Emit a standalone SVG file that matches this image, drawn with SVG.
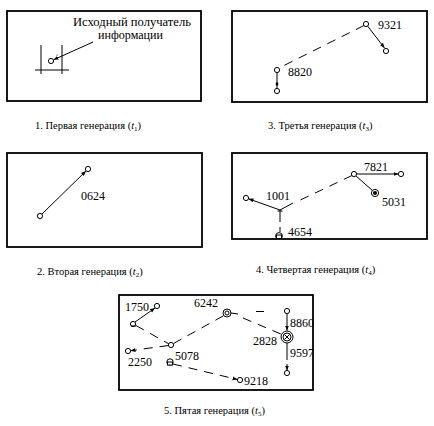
<svg xmlns="http://www.w3.org/2000/svg" width="434" height="426" viewBox="0 0 434 426">
<defs>
<marker id="ah" viewBox="0 0 10 10" refX="10" refY="5" markerWidth="5" markerHeight="5" orient="auto"><path d="M0,1 L10,5 L0,9 z" fill="#000"/></marker>
<style>
.frame{fill:#fff;stroke:#000;stroke-width:1.8}
.ln{stroke:#000;stroke-width:1;fill:none}
.ds{stroke:#000;stroke-width:1;fill:none;stroke-dasharray:9 7}
.nd{fill:#fff;stroke:#000;stroke-width:1}
text{font-family:'Liberation Serif','DejaVu Serif',serif;fill:#000}
.num{font-size:12px}
.cap{font-size:10.5px}
</style>
</defs>
<rect width="434" height="426" fill="#fff"/>

<g id="frames">
<rect class="frame" x="7" y="11" width="194" height="90"/>
<rect class="frame" x="232" y="11" width="195" height="91"/>
<rect class="frame" x="7" y="153" width="195" height="94"/>
<rect class="frame" x="232" y="153" width="195" height="86"/>
<rect class="frame" x="119" y="295" width="194" height="95"/>
</g>

<g id="connectors">
<line class="ln" x1="41" y1="45" x2="41" y2="74"/>
<line class="ln" x1="62" y1="45" x2="62" y2="74"/>
<line class="ln" x1="35" y1="70" x2="69" y2="70"/>
<line class="ln" x1="93" y1="42" x2="53.5" y2="59.8" marker-end="url(#ah)"/>
<line class="ln" x1="42" y1="214" x2="86" y2="171" marker-end="url(#ah)"/>
<line class="ds" x1="364" y1="25.5" x2="279" y2="68"/>
<line class="ln" x1="367.5" y1="26" x2="384.5" y2="48" marker-end="url(#ah)"/>
<line class="ln" x1="277" y1="72.5" x2="277" y2="88.5"/>
<rect x="275.8" y="82.5" width="2.4" height="3" fill="#000"/>
<line class="ln" x1="356.5" y1="174" x2="398.5" y2="174" marker-end="url(#ah)"/>
<line class="ln" x1="356" y1="176" x2="372.5" y2="190.5"/>
<line class="ds" x1="352" y1="175.5" x2="294" y2="203"/>
<line class="ln" x1="293" y1="203" x2="280" y2="210"/>
<line class="ln" x1="280" y1="210" x2="248.5" y2="198.8" marker-end="url(#ah)"/>
<line class="ln" x1="280" y1="210" x2="280" y2="222"/>
<line class="ln" x1="277.5" y1="211" x2="282.5" y2="211"/>
<line class="ln" x1="280" y1="227" x2="280" y2="232"/>
<line class="ln" x1="135" y1="322" x2="155" y2="308" marker-end="url(#ah)"/>
<line class="ds" x1="136" y1="325.5" x2="169" y2="344" stroke-dasharray="9 12"/>
<line class="ds" x1="173.5" y1="343.5" x2="224" y2="315.5"/>
<line class="ds" x1="168.5" y1="345.5" x2="130.5" y2="350.7" marker-end="url(#ah)"/>
<line class="ln" x1="231" y1="313" x2="238" y2="314"/>
<line class="ds" x1="243" y1="318" x2="282" y2="334.5"/>
<line class="ln" x1="256" y1="311.5" x2="264" y2="311.5"/>
<line class="ln" x1="287" y1="313.5" x2="287" y2="330.5" marker-end="url(#ah)"/>
<line class="ln" x1="287" y1="343" x2="287" y2="360"/>
<line class="ln" x1="287" y1="364" x2="287" y2="370.5" marker-end="url(#ah)"/>
<line class="ds" x1="173" y1="364" x2="237.5" y2="379.5" marker-end="url(#ah)"/>
</g>

<g id="p1-source">
<circle class="nd" cx="51" cy="61" r="2.6"/>
<circle cx="57" cy="55" r="0.6" fill="#000"/>
<text class="num" x="73" y="26" textLength="118" lengthAdjust="spacingAndGlyphs">Исходный получатель</text>
<text class="num" x="98" y="39" textLength="65" lengthAdjust="spacingAndGlyphs">информации</text>
</g>
<g id="cap1"><text class="cap" x="35" y="129">1. Первая генерация (<tspan font-style="italic">t</tspan><tspan font-size="7" baseline-shift="-2">1</tspan>)</text></g>

<g id="p2-a"><circle class="nd" cx="40" cy="216" r="2.6"/></g>
<g id="p2-0624"><circle class="nd" cx="88" cy="169" r="2.6"/><text class="num" x="81" y="200">0624</text></g>
<g id="cap2"><text class="cap" x="37" y="275">2. Вторая генерация (<tspan font-style="italic">t</tspan><tspan font-size="7" baseline-shift="-2">2</tspan>)</text></g>

<g id="p3-9321"><circle class="nd" cx="366" cy="24" r="2.6"/><text class="num" x="378" y="29">9321</text></g>
<g id="p3-b"><circle class="nd" cx="386" cy="51" r="2.6"/></g>
<g id="p3-8820"><circle class="nd" cx="277" cy="70" r="2.6"/><text class="num" x="288" y="76">8820</text></g>
<g id="p3-c"><circle class="nd" cx="277" cy="91" r="2.6"/></g>
<g id="cap3"><text class="cap" x="268" y="129">3. Третья генерация (<tspan font-style="italic">t</tspan><tspan font-size="7" baseline-shift="-2">3</tspan>)</text></g>

<g id="p4-a"><circle class="nd" cx="354" cy="174" r="2.6"/></g>
<g id="p4-7821"><circle class="nd" cx="401" cy="174" r="2.6"/><text class="num" x="364" y="171">7821</text></g>
<g id="p4-5031"><circle class="nd" cx="375" cy="193" r="3.6"/><circle cx="375" cy="193" r="2" fill="#000"/><text class="num" x="382" y="206">5031</text></g>
<g id="p4-1001"><circle class="nd" cx="246" cy="198" r="2.6"/><text class="num" x="266" y="200">1001</text></g>
<g id="p4-4654"><circle class="nd" cx="279" cy="236" r="3.4"/><rect class="nd" x="276.5" y="235" width="5" height="3.5"/><text class="num" x="288" y="236">4654</text></g>
<g id="cap4"><text class="cap" x="256" y="273">4. Четвертая генерация (<tspan font-style="italic">t</tspan><tspan font-size="7" baseline-shift="-2">4</tspan>)</text></g>

<g id="p5-1750"><circle class="nd" cx="157" cy="306" r="2.6"/><text class="num" x="125" y="311">1750</text></g>
<g id="p5-s"><circle class="nd" cx="133" cy="324" r="2.6"/><line class="ln" x1="131" y1="326" x2="136" y2="326"/></g>
<g id="p5-c"><circle class="nd" cx="171" cy="345" r="2.6"/></g>
<g id="p5-2250"><circle class="nd" cx="128" cy="351" r="2.6"/><text class="num" x="128" y="366">2250</text></g>
<g id="p5-6242"><circle class="nd" cx="227" cy="313" r="4"/><circle class="nd" cx="227" cy="313" r="2"/><text class="num" x="194" y="307">6242</text></g>
<g id="p5-8860"><circle class="nd" cx="287" cy="311" r="2.6"/><text class="num" x="290" y="327">8860</text></g>
<g id="p5-2828"><circle class="nd" cx="287" cy="337" r="6"/><circle class="nd" cx="287" cy="337" r="4"/><path class="ln" d="M284.5,334.5 L289.5,339.5 M289.5,334.5 L284.5,339.5"/><text class="num" x="253" y="345">2828</text></g>
<g id="p5-9597"><text class="num" x="290" y="357">9597</text></g>
<g id="p5-d"><circle class="nd" cx="287" cy="373" r="2.6"/></g>
<g id="p5-5078"><circle class="nd" cx="170" cy="362" r="3.2"/><rect class="nd" x="167.5" y="362" width="5" height="3"/><text class="num" x="175" y="360">5078</text></g>
<g id="p5-9218"><circle class="nd" cx="240" cy="380" r="2.6"/><text class="num" x="244" y="385">9218</text></g>
<g id="cap5"><text class="cap" x="164" y="414">5. Пятая генерация (<tspan font-style="italic">t</tspan><tspan font-size="7" baseline-shift="-2">5</tspan>)</text></g>
</svg>
